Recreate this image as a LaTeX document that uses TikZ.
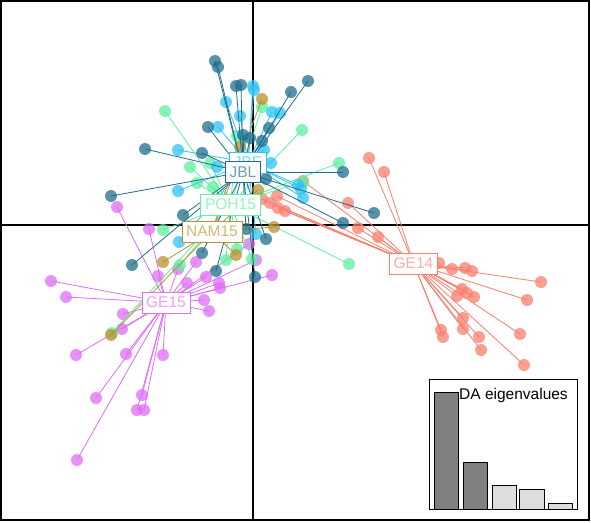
\documentclass[tikz,border=0pt]{standalone}
\usepackage{fontspec}
\setmainfont{Liberation Sans}
\definecolor{cGEf}{HTML}{FA7F6E}
\definecolor{cGEv}{HTML}{E06EF6}
\definecolor{cNAM}{HTML}{B8922E}
\definecolor{cPOH}{HTML}{5EF0A0}
\definecolor{cJBE}{HTML}{2EC4F4}
\definecolor{cJBL}{HTML}{1F6E8E}
\tikzset{
  pt/.style={fill=#1, opacity=.75},
  seg/.style={draw=#1, line width=.8pt},
  grplab/.style={draw=#1, fill=white, line width=.9pt, text=#1!65!white,
    font=\fontsize{15.5}{15.5}\selectfont, inner xsep=4.2pt, inner ysep=0pt,
    minimum height=21pt},
  bar/.style={draw=black, line width=.9pt, fill=#1},
}
\newcommand\drawgroup[3]{%
  \foreach \p in {#3} { \fill[pt=#1] \p circle (6pt); }
  \foreach \p in {#3} { \draw[seg=#1] (#2) -- \p; }
}
\begin{document}
\begin{tikzpicture}[x=1pt,y=-1pt]
\useasboundingbox (0,0) rectangle (591,522);
\fill[white] (0,0) rectangle (591,522);
% centroids
\coordinate (mGE14) at (413.5,263.5);
\coordinate (mGE15) at (166,302.5);
\coordinate (mJBE) at (248,162.5);
\coordinate (mJBL) at (243,172);
\coordinate (mPOH) at (230.5,204.5);
\coordinate (mNAM) at (212,231.5);
% axes
\draw[line width=1.2pt] (253,1) -- (253,520);
\draw[line width=1.2pt] (1,225) -- (589,225);
% groups
\drawgroup{cGEf}{mGE14}{(369,158),(384,172),(303,181),(348,203),(358,228),(378,237),(270,203),(278,208),(277,196),(285,211),(262,199),
  (439,263),(452,269),(465,268),(472,271),(541,282),(527,300),(462,289),(457,296),(467,293),(474,297),(463,318),(441,330),(443,337),(463,329),(479,337),(481,350),(520,334),(524,365)}
\drawgroup{cGEv}{mGE15}{(51,281),(66,297),(117,207),(149,229),(123,314),(122,329),(76,355),(126,354),(163,355),(96,398),(142,395),(137,410),(144,410),(77,460),
  (204,300),(209,311),(219,283),(220,288),(206,277),(187,283),(158,276),(249,244),(256,260),(272,275),(178,269),(196,262)}
\drawgroup{cPOH}{mPOH}{(165,111),(262,107),(302,130),(190,167),(210,163),(197,183),(213,187),(163,230),(237,249),(226,260),(252,259),(180,265),(339,163),(349,264),(237,136),(303,182),(112,333)}
\drawgroup{cJBE}{mJBE}{(253,86),(254,90),(226,102),(272,112),(280,113),(240,116),(218,127),(178,150),(217,167),(178,191),(179,242),(256,234),(271,163),(298,185),(301,189),(303,198),(264,150)}
\drawgroup{cNAM}{mNAM}{(262,99),(240,147),(274,227),(236,255),(163,262),(111,335),(258,190)}
\drawgroup{cJBL}{mJBL}{(215,61),(218,67),(236,86),(241,85),(308,81),(291,92),(208,127),(269,128),(243,135),(250,138),(262,141),(202,153),(145,149),(111,196),(183,215),(246,229),(266,239),(266,179),(202,253),(216,271),(255,277),(132,265),(343,172),(374,213),(343,223)}
% labels
\node[grplab=cGEf] (lGE14) at (mGE14) {GE14};
\node[grplab=cGEv] (lGE15) at (mGE15) {GE15};
\node[grplab=cJBE] (lJBE) at (mJBE) {JBE};
\node[grplab=cJBL] (lJBL) at (mJBL) {JBL};
\node[grplab=cNAM] (lNAM) at (mNAM) {NAM15};
\node[grplab=cPOH] (lPOH) at (mPOH) {POH15};
% outer frame
\draw[line width=1.2pt] (1,1) rectangle (589,520);
% eigenvalue inset
\draw[line width=1pt, fill=white] (429,379) rectangle (577,509);
\draw[bar=gray] (434,392) rectangle (458,509);
\draw[bar=gray] (463,462) rectangle (487,509);
\draw[bar={black!13}] (492,485) rectangle (516,509);
\draw[bar={black!13}] (519,489) rectangle (544,509);
\draw[bar={black!13}] (548,503) rectangle (572,509);
\node[anchor=base west, inner sep=0pt, font=\fontsize{15.5}{15.5}\selectfont] (eigt) at (459,399.5) {DA eigenvalues};
\end{tikzpicture}
\end{document}
